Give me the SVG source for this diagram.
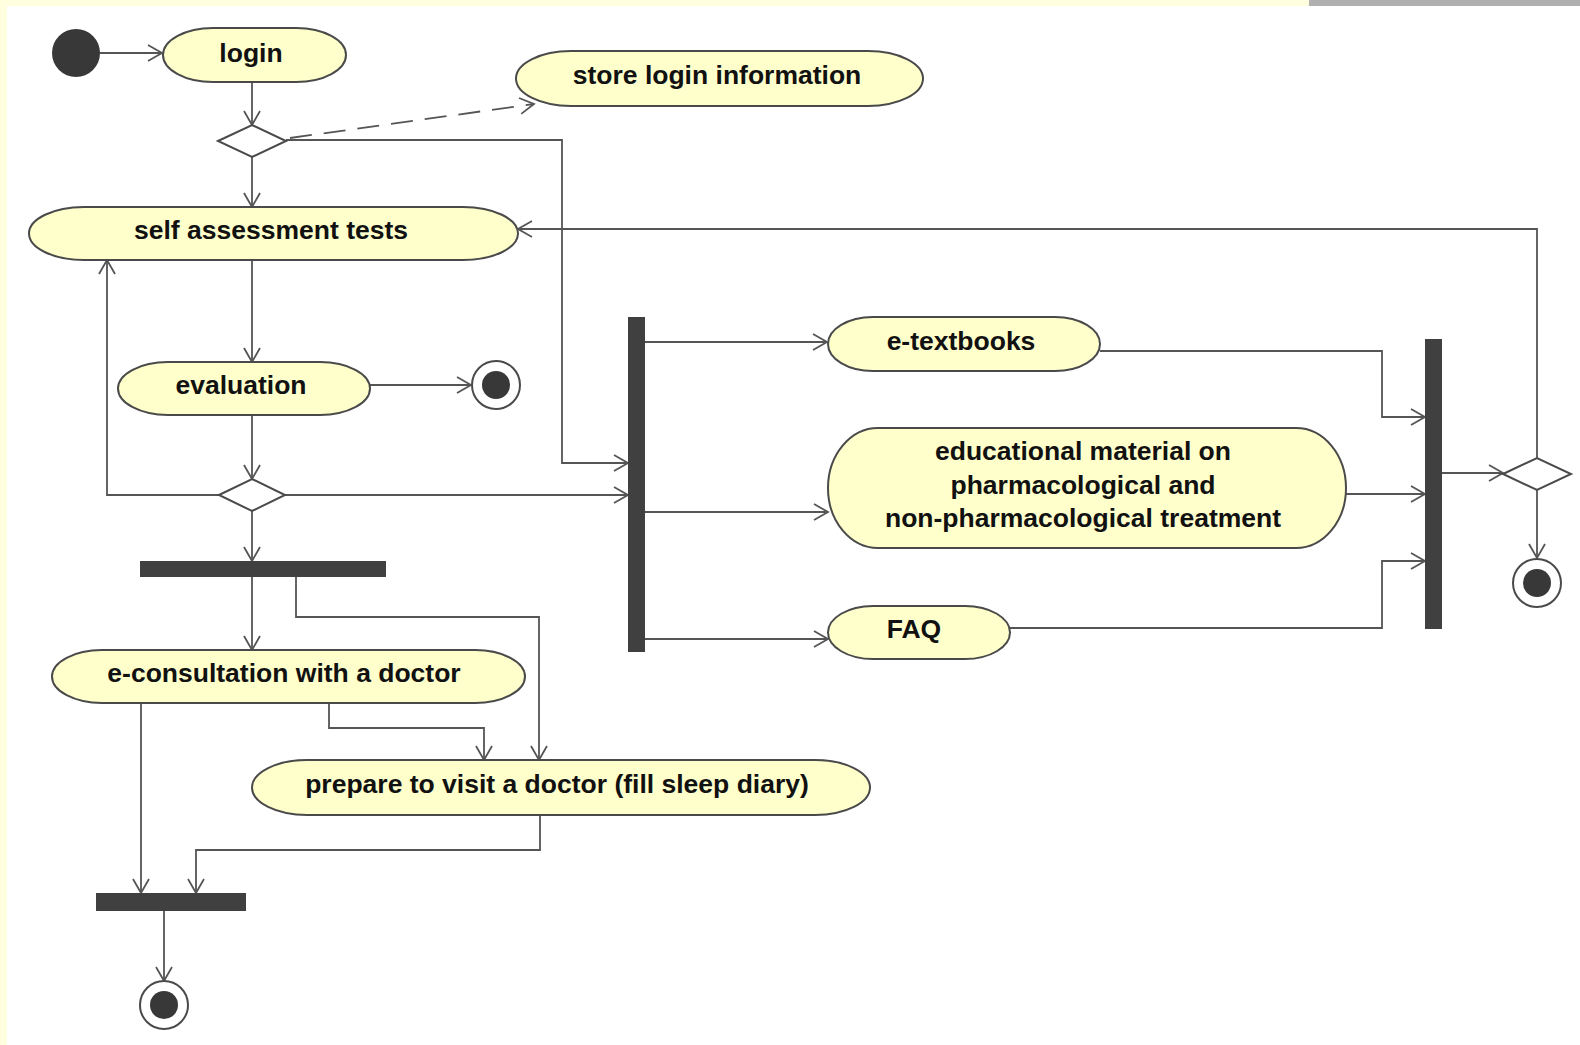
<svg xmlns="http://www.w3.org/2000/svg" width="1580" height="1045" viewBox="0 0 1580 1045">
<style>
.bg{fill:#ffffff}
.act{fill:#ffffcc;stroke:#4a4a4a;stroke-width:2}
.lbl{font-family:"Liberation Sans",Arial,sans-serif;font-weight:bold;font-size:26.5px;fill:#111;text-anchor:middle}
.bar{fill:#404040}
.dia{fill:#ffffff;stroke:#4a4a4a;stroke-width:2}
.fin{fill:#ffffff;stroke:#4a4a4a;stroke-width:2}
.dot{fill:#383838}
.c{fill:none;stroke:#555555;stroke-width:1.8}
.dash{stroke-dasharray:22,12}
</style>
<defs>
<marker id="arr" markerUnits="userSpaceOnUse" markerWidth="18" markerHeight="18" refX="15" refY="9" orient="auto">
<path d="M1,1 L15,9 L1,17" fill="none" stroke="#555555" stroke-width="1.8"/>
</marker>
</defs>
<rect class="bg" x="0" y="0" width="1580" height="1045"/>
<rect x="0" y="0" width="1309" height="6" fill="#ffffe0"/>
<rect x="1309" y="0" width="271" height="6" fill="#b0b0b0"/>
<rect x="0" y="0" width="7" height="1045" fill="#ffffe0"/>

<g id="connectors">
<path class="c" d="M100,53 H162" marker-end="url(#arr)"/>
<path class="c" d="M252,82 V125" marker-end="url(#arr)"/>
<path class="c" d="M252,157 V207" marker-end="url(#arr)"/>
<path class="c dash" d="M290,138 L534,104" marker-end="url(#arr)"/>
<path class="c" d="M286,140 H562 V463 H628" marker-end="url(#arr)"/>
<path class="c" d="M252,260 V362" marker-end="url(#arr)"/>
<path class="c" d="M370,385 H471" marker-end="url(#arr)"/>
<path class="c" d="M252,415 V479" marker-end="url(#arr)"/>
<path class="c" d="M219,495 H107 V260" marker-end="url(#arr)"/>
<path class="c" d="M285,495 H628" marker-end="url(#arr)"/>
<path class="c" d="M252,511 V561" marker-end="url(#arr)"/>
<path class="c" d="M252,577 V650" marker-end="url(#arr)"/>
<path class="c" d="M296,577 V617 H539 V760" marker-end="url(#arr)"/>
<path class="c" d="M141,703 V893" marker-end="url(#arr)"/>
<path class="c" d="M329,703 V728 H484 V760" marker-end="url(#arr)"/>
<path class="c" d="M540,815 V850 H196 V893" marker-end="url(#arr)"/>
<path class="c" d="M164,911 V981" marker-end="url(#arr)"/>
<path class="c" d="M645,342 H827" marker-end="url(#arr)"/>
<path class="c" d="M645,512 H828" marker-end="url(#arr)"/>
<path class="c" d="M645,639 H828" marker-end="url(#arr)"/>
<path class="c" d="M1100,351 H1382 V417 H1425" marker-end="url(#arr)"/>
<path class="c" d="M1345,494 H1425" marker-end="url(#arr)"/>
<path class="c" d="M1010,628 H1382 V561 H1425" marker-end="url(#arr)"/>
<path class="c" d="M1442,473 H1503" marker-end="url(#arr)"/>
<path class="c" d="M1537,458 V229 H518" marker-end="url(#arr)"/>
<path class="c" d="M1537,490 V558" marker-end="url(#arr)"/>
</g>

<g id="start"><circle class="dot" cx="76" cy="53" r="24"/></g>
<g id="login"><rect class="act" x="163" y="28" width="183" height="54" rx="50" ry="27"/><text class="lbl" x="251" y="62">login</text></g>
<g id="store"><rect class="act" x="516" y="51" width="407" height="55" rx="55" ry="27.5"/><text class="lbl" x="717" y="84">store login information</text></g>
<g id="decision1"><path class="dia" d="M218,141 L252,125 L286,141 L252,157 Z"/></g>
<g id="self"><rect class="act" x="29" y="207" width="489" height="53" rx="55" ry="26.5"/><text class="lbl" x="271" y="239">self assessment tests</text></g>
<g id="evaluation"><rect class="act" x="118" y="362" width="252" height="53" rx="50" ry="26.5"/><text class="lbl" x="241" y="394">evaluation</text></g>
<g id="final1"><circle class="fin" cx="496" cy="385" r="24"/><circle class="dot" cx="496" cy="385" r="14"/></g>
<g id="decision2"><path class="dia" d="M219,495 L252,479 L285,495 L252,511 Z"/></g>
<g id="fork1"><rect class="bar" x="140" y="561" width="246" height="16"/></g>
<g id="econsult"><rect class="act" x="52" y="650" width="473" height="53" rx="50" ry="26.5"/><text class="lbl" x="284" y="682">e-consultation with a doctor</text></g>
<g id="prepare"><rect class="act" x="252" y="760" width="618" height="55" rx="55" ry="27.5"/><text class="lbl" x="557" y="793">prepare to visit a doctor (fill sleep diary)</text></g>
<g id="join1"><rect class="bar" x="96" y="893" width="150" height="18"/></g>
<g id="final3"><circle class="fin" cx="164" cy="1005" r="24"/><circle class="dot" cx="164" cy="1005" r="14"/></g>
<g id="fork2"><rect class="bar" x="628" y="317" width="17" height="335"/></g>
<g id="etextbooks"><rect class="act" x="828" y="317" width="272" height="54" rx="45" ry="27"/><text class="lbl" x="961" y="350">e-textbooks</text></g>
<g id="educational"><rect class="act" x="828" y="428" width="518" height="120" rx="50" ry="60"/><text class="lbl" x="1083" y="460">educational material on</text><text class="lbl" x="1083" y="494">pharmacological and</text><text class="lbl" x="1083" y="527">non-pharmacological treatment</text></g>
<g id="faq"><rect class="act" x="828" y="606" width="182" height="53" rx="45" ry="26.5"/><text class="lbl" x="914" y="638">FAQ</text></g>
<g id="join2"><rect class="bar" x="1425" y="339" width="17" height="290"/></g>
<g id="decision3"><path class="dia" d="M1503,474 L1537,458 L1571,474 L1537,490 Z"/></g>
<g id="final2"><circle class="fin" cx="1537" cy="583" r="24"/><circle class="dot" cx="1537" cy="583" r="14"/></g>
</svg>
